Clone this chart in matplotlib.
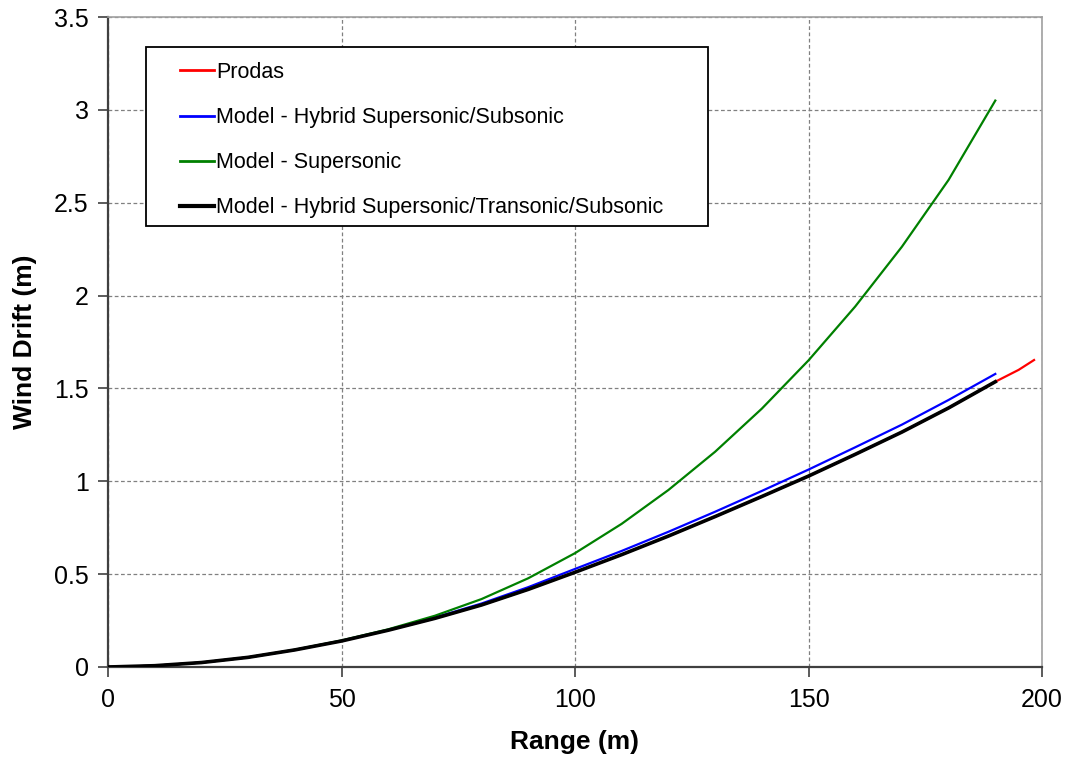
import matplotlib
matplotlib.use("Agg")
import matplotlib.pyplot as plt
from matplotlib.patches import Rectangle

# ---- data ----
range_m = [0, 10, 20, 30, 40, 50, 60, 70, 80, 90, 100, 110, 120, 130, 140, 150, 160, 170, 180, 190]
prodas_range = range_m + [195, 198.3]
prodas = [0, 0.007, 0.024, 0.052, 0.092, 0.14, 0.198, 0.262, 0.334, 0.418, 0.51, 0.605, 0.705,
          0.81, 0.918, 1.028, 1.145, 1.265, 1.395, 1.536, 1.60, 1.653]
hybrid_sub = [0, 0.007, 0.024, 0.052, 0.092, 0.141, 0.200, 0.266, 0.342, 0.430, 0.528, 0.625, 0.728,
              0.836, 0.948, 1.063, 1.183, 1.305, 1.438, 1.578]
supersonic = [0, 0.007, 0.024, 0.052, 0.093, 0.143, 0.203, 0.276, 0.366, 0.478, 0.613, 0.771, 0.953,
              1.159, 1.391, 1.651, 1.941, 2.263, 2.623, 3.05]
hybrid_trans = [0, 0.007, 0.024, 0.052, 0.092, 0.14, 0.198, 0.262, 0.334, 0.418, 0.51, 0.605, 0.705,
                0.81, 0.918, 1.028, 1.145, 1.265, 1.395, 1.536]

labels = ["Prodas", "Model - Hybrid Supersonic/Subsonic", "Model - Supersonic",
          "Model - Hybrid Supersonic/Transonic/Subsonic"]
xticks = [0, 50, 100, 150, 200]
yticks = [0, 0.5, 1, 1.5, 2, 2.5, 3, 3.5]
ytick_labels = ["0", "0.5", "1", "1.5", "2", "2.5", "3", "3.5"]

plt.rcParams['font.family'] = ['Liberation Sans', 'DejaVu Sans']

W, H = 1066, 759
fig = plt.figure(figsize=(W / 100, H / 100), dpi=100)
ax = fig.add_axes([108 / W, 1 - 667 / H, (1042 - 108) / W, (667 - 17) / H])

ax.plot(prodas_range, prodas, color="#ff0000", lw=1.6, label=labels[0], zorder=3)
ax.plot(range_m, hybrid_sub, color="#0000ff", lw=1.6, label=labels[1], zorder=4)
ax.plot(range_m, supersonic, color="#008000", lw=1.6, label=labels[2], zorder=4)
ax.plot(range_m, hybrid_trans, color="#000000", lw=2.6, label=labels[3], zorder=5)

ax.set_xlim(0, 200)
ax.set_ylim(0, 3.5)
ax.set_xticks(xticks)
ax.set_xticklabels([str(t) for t in xticks])
ax.set_yticks(yticks)
ax.set_yticklabels(ytick_labels)
ax.tick_params(axis='both', labelsize=18, direction='out', length=7, width=1.2, color="#404040")
ax.tick_params(axis='x', pad=8)
ax.tick_params(axis='y', pad=7)

ax.grid(True, color="#808080", linestyle=(0, (3, 2)), linewidth=0.9)
for s in ["top", "right"]:
    ax.spines[s].set_color("#a0a0a0")
    ax.spines[s].set_linewidth(1.2)
for s in ["left", "bottom"]:
    ax.spines[s].set_color("#404040")
    ax.spines[s].set_linewidth(1.6)

ax.set_xlabel("Range (m)", fontsize=19, fontweight="bold", labelpad=13)
ax.set_ylabel("Wind Drift (m)", fontsize=19, fontweight="bold", labelpad=12)

# legend frame drawn as a rectangle (pixel coords of the reference)
ax.add_patch(Rectangle((146 / W, 1 - 226 / H), (708 - 146) / W, (226 - 47) / H,
                       transform=fig.transFigure, facecolor="white", edgecolor="black",
                       linewidth=1.3, zorder=9, clip_on=False))
leg = ax.legend(loc="upper left", bbox_to_anchor=(180 / W, 1 - 62 / H),
                bbox_transform=fig.transFigure, frameon=False,
                borderaxespad=0, borderpad=0, fontsize=15.5, handlelength=1.58,
                handletextpad=0.1, labelspacing=1.12)
for line in leg.get_lines():
    line.set_linewidth(2.0)
leg.get_lines()[3].set_linewidth(3.0)
leg.set_zorder(10)

fig.savefig("out.png", dpi=100)
